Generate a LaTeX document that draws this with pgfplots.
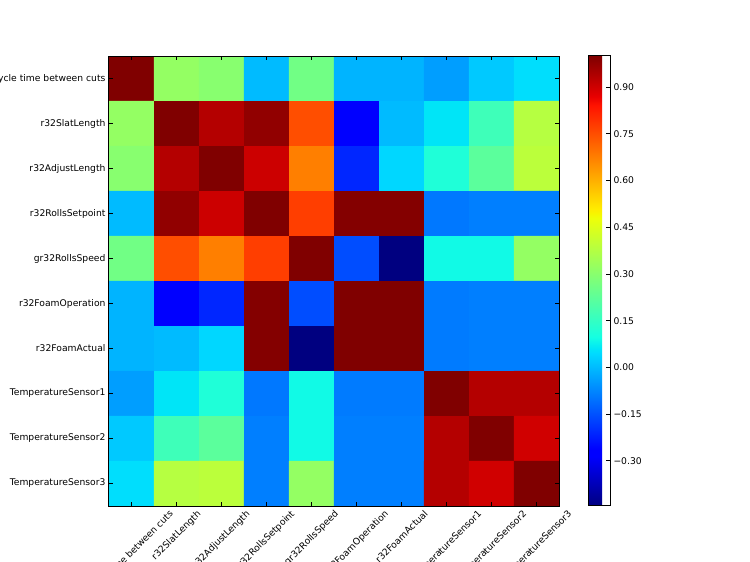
\documentclass[border=0pt]{standalone}
\usepackage{graphicx}
\usepackage{pgfplots}
\pgfplotsset{compat=1.18}
\usepackage{fontspec}
\setmainfont{DejaVu Sans}
\newcommand{\rl}[1]{\rotatebox{45}{#1}}
% matplotlib "jet"
\pgfplotsset{colormap={mjet}{rgb(0pt)=(0,0,0.5) rgb(22pt)=(0,0,1) rgb(25pt)=(0,0,1)
  rgb(68pt)=(0,0.86,1) rgb(70pt)=(0,0.9,0.968) rgb(75pt)=(0.081,1,0.887)
  rgb(128pt)=(0.935,1,0.032) rgb(130pt)=(0.968,0.963,0) rgb(132pt)=(1,0.926,0)
  rgb(178pt)=(1,0.074,0) rgb(182pt)=(0.909,0,0) rgb(200pt)=(0.5,0,0)}}
\begin{document}
\begin{tikzpicture}
\path[use as bounding box] (0,0) rectangle (750pt,562pt);
\begin{axis}[at={(109pt,56pt)}, anchor=south west, scale only axis,
  width=450pt, height=450pt,
  xmin=-0.5, xmax=9.5, ymin=-0.5, ymax=9.5, y dir=reverse, axis on top,
  xtick={0,...,9}, ytick={0,...,9},
  xticklabels={\rl{Cycle time between cuts},\rl{r32SlatLength},\rl{r32AdjustLength},
    \rl{r32RollsSetpoint},\rl{gr32RollsSpeed},\rl{r32FoamOperation},\rl{r32FoamActual},
    \rl{TemperatureSensor1},\rl{TemperatureSensor2},\rl{TemperatureSensor3}},
  yticklabels={Cycle time between cuts,r32SlatLength,r32AdjustLength,r32RollsSetpoint,
    gr32RollsSpeed,r32FoamOperation,r32FoamActual,TemperatureSensor1,
    TemperatureSensor2,TemperatureSensor3},
  xticklabel style={anchor=north},
  tick label style={font=\fontsize{9.2}{11}\selectfont},
  tick align=inside, major tick length=4pt,
  tick style={black, line width=0.8pt},
  axis line style={line width=1pt},
  colormap name=mjet, point meta min=-0.445, point meta max=1,
  colorbar, colorbar shift/.style={xshift=29pt},
  colorbar style={width=22pt, at={(parent axis.north east)}, anchor=north west,
    ytick={-0.3,-0.15,0,0.15,0.3,0.45,0.6,0.75,0.9},
    yticklabels={−0.30,−0.15,0.00,0.15,0.30,0.45,0.60,0.75,0.90},
    ytick pos=right, yticklabel pos=right,
    tick align=inside, major tick length=4pt,
    tick style={black, line width=0.8pt},
    axis line style={line width=1pt},
    yticklabel style={font=\fontsize{9.2}{11}\selectfont}},
]
\addplot[matrix plot*, point meta=explicit, mesh/cols=10] table[meta=c, row sep=\\] {
x y c \\
0 0 1.00 \\ 1 0 0.32 \\ 2 0 0.30 \\ 3 0 0.00 \\ 4 0 0.26 \\ 5 0 -0.01 \\ 6 0 -0.01 \\ 7 0 -0.04 \\ 8 0 0.02 \\ 9 0 0.05 \\
0 1 0.32 \\ 1 1 1.00 \\ 2 1 0.935 \\ 3 1 0.978 \\ 4 1 0.75 \\ 5 1 -0.28 \\ 6 1 0.00 \\ 7 1 0.06 \\ 8 1 0.17 \\ 9 1 0.38 \\
0 2 0.30 \\ 1 2 0.935 \\ 2 2 1.00 \\ 3 2 0.905 \\ 4 2 0.675 \\ 5 2 -0.21 \\ 6 2 0.04 \\ 7 2 0.115 \\ 8 2 0.22 \\ 9 2 0.39 \\
0 3 0.00 \\ 1 3 0.978 \\ 2 3 0.905 \\ 3 3 1.00 \\ 4 3 0.775 \\ 5 3 0.995 \\ 6 3 0.995 \\ 7 3 -0.095 \\ 8 3 -0.085 \\ 9 3 -0.085 \\
0 4 0.26 \\ 1 4 0.75 \\ 2 4 0.675 \\ 3 4 0.775 \\ 4 4 1.00 \\ 5 4 -0.155 \\ 6 4 -0.445 \\ 7 4 0.09 \\ 8 4 0.09 \\ 9 4 0.32 \\
0 5 -0.01 \\ 1 5 -0.28 \\ 2 5 -0.21 \\ 3 5 0.995 \\ 4 5 -0.155 \\ 5 5 1.00 \\ 6 5 1.00 \\ 7 5 -0.09 \\ 8 5 -0.085 \\ 9 5 -0.085 \\
0 6 -0.01 \\ 1 6 0.00 \\ 2 6 0.04 \\ 3 6 0.995 \\ 4 6 -0.445 \\ 5 6 1.00 \\ 6 6 1.00 \\ 7 6 -0.09 \\ 8 6 -0.085 \\ 9 6 -0.085 \\
0 7 -0.04 \\ 1 7 0.06 \\ 2 7 0.115 \\ 3 7 -0.095 \\ 4 7 0.09 \\ 5 7 -0.09 \\ 6 7 -0.09 \\ 7 7 1.00 \\ 8 7 0.935 \\ 9 7 0.935 \\
0 8 0.02 \\ 1 8 0.17 \\ 2 8 0.22 \\ 3 8 -0.085 \\ 4 8 0.09 \\ 5 8 -0.085 \\ 6 8 -0.085 \\ 7 8 0.935 \\ 8 8 1.00 \\ 9 8 0.90 \\
0 9 0.05 \\ 1 9 0.38 \\ 2 9 0.39 \\ 3 9 -0.085 \\ 4 9 0.32 \\ 5 9 -0.085 \\ 6 9 -0.085 \\ 7 9 0.935 \\ 8 9 0.90 \\ 9 9 1.00 \\
};
\end{axis}
\end{tikzpicture}
\end{document}
